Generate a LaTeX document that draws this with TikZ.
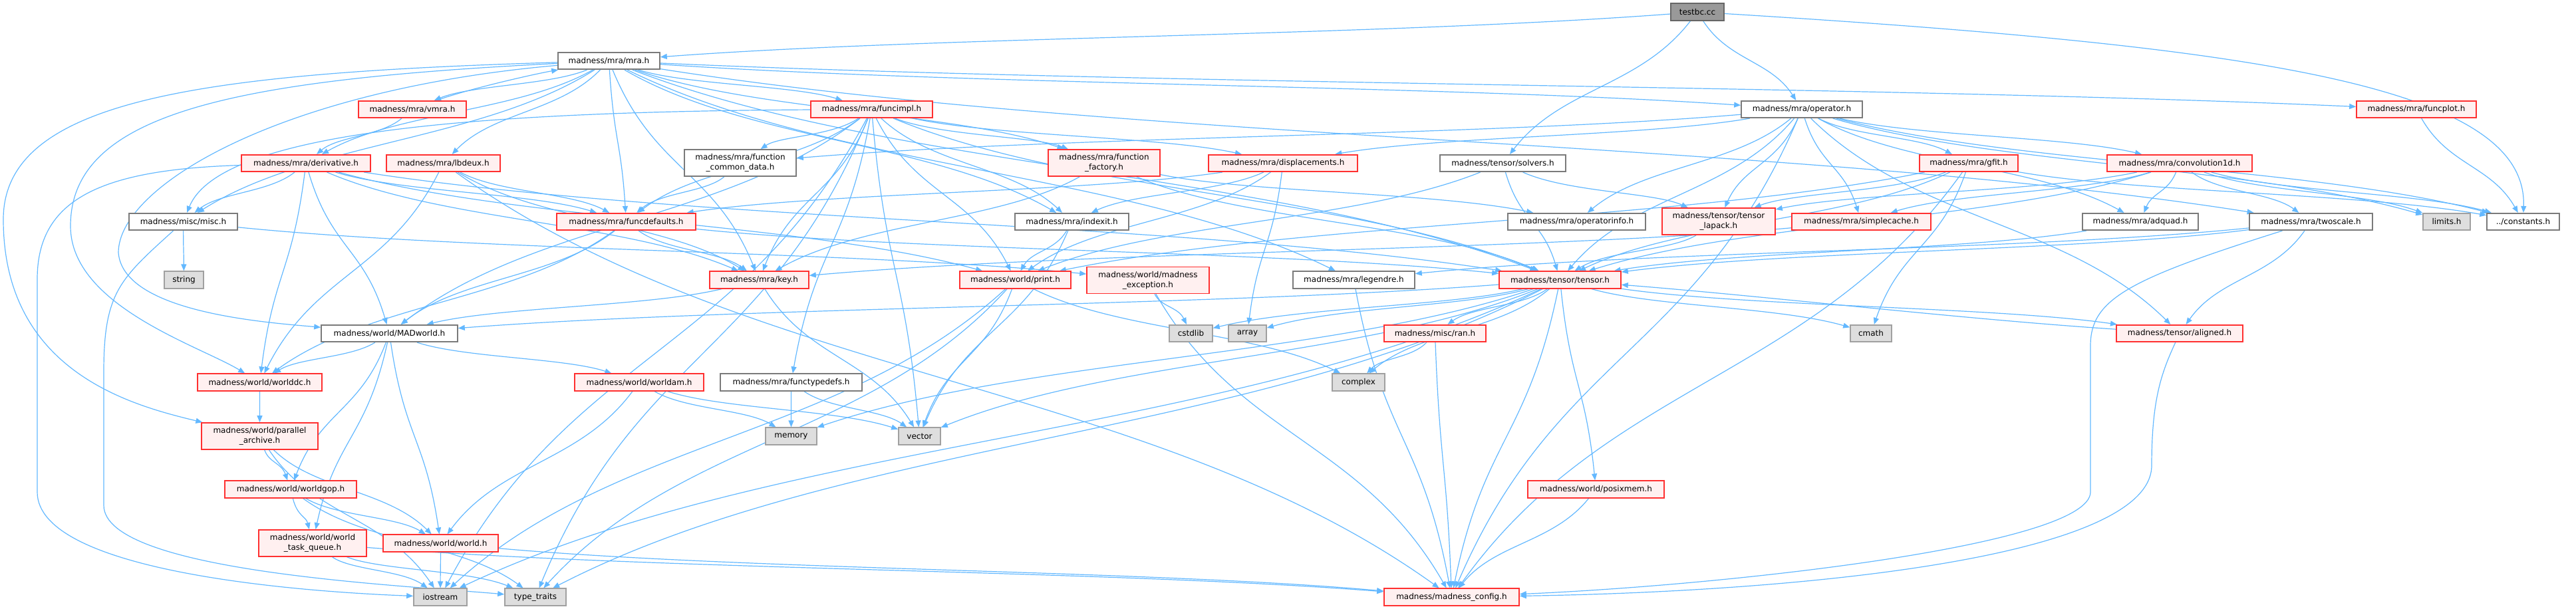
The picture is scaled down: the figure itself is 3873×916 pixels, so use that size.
\documentclass[tikz,border=0pt]{standalone}
\usepackage{fontspec}
\setmainfont{DejaVu Sans}
\usetikzlibrary{arrows.meta,calc}
\pgfdeclarelayer{bg}
\pgfsetlayers{bg,main}
\definecolor{edgec}{HTML}{63B8FF}
\definecolor{redfill}{HTML}{FFF0F0}
\definecolor{redline}{HTML}{FF3030}
\definecolor{whiteline}{HTML}{7A7A7A}
\definecolor{greyfill}{HTML}{DEDEDE}
\definecolor{greyline}{HTML}{A0A0A0}
\definecolor{topfill}{HTML}{999999}
\definecolor{topline}{HTML}{666666}
\tikzset{
  bw/.style={minimum width=#1*0.5pt},
  nbase/.style={draw, line width=0.8pt, inner sep=0pt, minimum height=12.75pt,
    font=\fontsize{6}{7.4}\selectfont, text=black, align=center},
  redn/.style={nbase, draw=redline, fill=redfill},
  whiten/.style={nbase, draw=whiteline, fill=white},
  greyn/.style={nbase, draw=greyline, fill=greyfill},
  topn/.style={nbase, draw=topline, fill=topfill},
  tall/.style={minimum height=20pt},
  edge/.style={draw=edgec, line width=0.6pt, -{Triangle[length=5pt,width=4pt]}},
}
\newcommand\lnk[3][]{\draw[edge,#1] let \p1=(#2), \p2=(#3) in (#2) .. controls ({0.7*\x1+0.3*\x2},{0.5*\y1+0.5*\y2}) and ({0.3*\x1+0.7*\x2},{0.5*\y1+0.5*\y2}) .. (#3);}
\begin{document}
\begin{tikzpicture}[x=0.5pt,y=-0.5pt]
\useasboundingbox (0,0) rectangle (3873,916);
% nodes
\node[topn,bw=80] (testbc) at (2552,18) {testbc.cc};
\node[whiten,bw=153] (mra) at (915.5,91.5) {madness/mra/mra.h};
\node[redn,bw=162] (vmra) at (620,164.5) {madness/mra/vmra.h};
\node[redn,bw=183] (funcimpl) at (1310.5,164.5) {madness/mra/funcimpl.h};
\node[whiten,bw=182] (opr) at (2709,164.5) {madness/mra/operator.h};
\node[redn,bw=180] (funcplot) at (3633,164.5) {madness/mra/funcplot.h};
\node[redn,bw=194] (deriv) at (460,245.5) {madness/mra/derivative.h};
\node[redn,bw=171] (lbdeux) at (666.5,245.5) {madness/mra/lbdeux.h};
\node[whiten,bw=168,tall] (fcd) at (1113,245) {madness/mra/function\\\_common\_data.h};
\node[redn,bw=168,tall] (ffac) at (1660,245) {madness/mra/function\\\_factory.h};
\node[redn,bw=224] (displ) at (1929,245.5) {madness/mra/displacements.h};
\node[whiten,bw=189] (solvers) at (2259.5,245.5) {madness/tensor/solvers.h};
\node[redn,bw=148] (gfit) at (2960,245.5) {madness/mra/gfit.h};
\node[redn,bw=218] (conv) at (3277,245.5) {madness/mra/convolution1d.h};
\node[whiten,bw=163] (misc) at (275.5,333.5) {madness/misc/misc.h};
\node[redn,bw=209] (fdef) at (941.5,333.5) {madness/mra/funcdefaults.h};
\node[whiten,bw=171] (indexit) at (1611.5,333.5) {madness/mra/indexit.h};
\node[whiten,bw=207] (opinfo) at (2370.5,333.5) {madness/mra/operatorinfo.h};
\node[redn,bw=170,tall] (lapack) at (2584,333) {madness/tensor/tensor\\\_lapack.h};
\node[redn,bw=209] (scache) at (2798.5,333.5) {madness/mra/simplecache.h};
\node[whiten,bw=174] (adquad) at (3218,333.5) {madness/mra/adquad.h};
\node[whiten,bw=185] (twoscale) at (3474.5,333.5) {madness/mra/twoscale.h};
\node[greyn,bw=71] (limits) at (3678.5,333.5) {limits.h};
\node[whiten,bw=109] (const) at (3793.5,333.5) {../constants.h};
\node[greyn,bw=59] (string) at (276.5,421) {string};
\node[redn,bw=149] (key) at (1141.5,421) {madness/mra/key.h};
\node[redn,bw=167] (print) at (1526.5,421) {madness/world/print.h};
\node[redn,bw=184,tall] (mexc) at (1726,421.5) {madness/world/madness\\\_exception.h};
\node[whiten,bw=183] (legendre) at (2035.5,421) {madness/mra/legendre.h};
\node[redn,bw=183] (tensor) at (2345.5,421) {madness/tensor/tensor.h};
\node[whiten,bw=205] (madworld) at (585.5,501.5) {madness/world/MADworld.h};
\node[greyn,bw=65] (cstdlib) at (1790.5,501.5) {cstdlib};
\node[greyn,bw=57] (array) at (1875.5,501.5) {array};
\node[redn,bw=153] (ran) at (2157.5,501.5) {madness/misc/ran.h};
\node[greyn,bw=62] (cmath) at (2813,501.5) {cmath};
\node[redn,bw=190] (aligned) at (3277,501.5) {madness/tensor/aligned.h};
\node[redn,bw=187] (worlddc) at (390.5,575) {madness/world/worlddc.h};
\node[redn,bw=194] (worldam) at (961,575) {madness/world/worldam.h};
\node[whiten,bw=213] (ftd) at (1189.5,575) {madness/mra/functypedefs.h};
\node[greyn,bw=79] (complex) at (2042.5,575) {complex};
\node[redn,bw=175,tall] (parch) at (390.5,656) {madness/world/parallel\\\_archive.h};
\node[greyn,bw=77] (memory) at (1189.5,656) {memory};
\node[greyn,bw=63] (vector) at (1382.5,656) {vector};
\node[redn,bw=198] (worldgop) at (437,736) {madness/world/worldgop.h};
\node[redn,bw=205] (posix) at (2399.5,736) {madness/world/posixmem.h};
\node[redn,bw=162,tall] (wtq) at (470,817) {madness/world/world\\\_task\_queue.h};
\node[redn,bw=173] (world) at (662.5,817) {madness/world/world.h};
\node[greyn,bw=80] (iostream) at (662,898) {iostream};
\node[greyn,bw=92] (ttraits) at (805,898) {type\_traits};
\node[redn,bw=203] (config) at (2182.5,898) {madness/madness\_config.h};
\begin{pgfonlayer}{bg}
% testbc
\lnk{testbc}{mra}
\lnk{testbc}{opr}
\lnk{testbc}{solvers}
\draw[edge] (testbc) .. controls (3400,70) and (3800,130) .. (const);
% mra
\lnk{mra}{vmra}
\lnk{mra}{deriv}
\lnk{mra}{lbdeux}
\lnk{mra}{misc}
\lnk{mra}{fdef}
\lnk{mra}{key}
\lnk{mra}{funcimpl}
\lnk{mra}{ffac}
\lnk{mra}{indexit}
\lnk{mra}{opr}
\lnk{mra}{funcplot}
\lnk{mra}{twoscale}
\lnk{mra}{legendre}
\lnk{mra}{tensor}
\draw[edge] (mra) .. controls (300,110) and (5,150) .. (5,330) .. controls (5,560) and (200,610) .. (parch);
\draw[edge] (mra) .. controls (350,120) and (106,170) .. (106,340) .. controls (106,460) and (300,520) .. (worlddc);
\draw[edge] (mra) .. controls (420,135) and (178,280) .. (178,380) .. controls (185,470) and (400,485) .. (madworld);
% vmra
\draw[edge] (vmra) .. controls (700,135) and (800,112) .. (mra);
\lnk{vmra}{deriv}
% derivative
\lnk{deriv}{misc}
\lnk{deriv}{fdef}
\lnk{deriv}{madworld}
\lnk{deriv}{worlddc}
\lnk{deriv}{key}
\lnk{deriv}{print}
\lnk{deriv}{tensor}
\draw[edge] (deriv) .. controls (150,255) and (56,300) .. (56,420) -- (56,740) .. controls (56,860) and (450,890) .. (iostream);
% lbdeux
\lnk{lbdeux}{fdef}
\lnk{lbdeux}{worlddc}
\lnk{lbdeux}{key}
\lnk{lbdeux}{config}
% misc
\lnk{misc}{string}
\lnk{misc}{mexc}
\draw[edge] (misc) .. controls (180,420) and (156,440) .. (156,560) -- (156,760) .. controls (156,860) and (600,880) .. (ttraits);
% funcimpl
\draw[edge] (funcimpl) .. controls (700,168) and (330,200) .. (misc);
\lnk{funcimpl}{fdef}
\lnk{funcimpl}{fcd}
\lnk{funcimpl}{ffac}
\lnk{funcimpl}{displ}
\lnk{funcimpl}{indexit}
\lnk{funcimpl}{key}
\lnk{funcimpl}{print}
\lnk{funcimpl}{madworld}
\lnk{funcimpl}{ftd}
\lnk{funcimpl}{tensor}
\lnk{funcimpl}{iostream}
\lnk{funcimpl}{ttraits}
\lnk{funcimpl}{vector}
% second row
\lnk{fcd}{fdef}
\lnk{ffac}{key}
\lnk{ffac}{tensor}
\lnk{ffac}{opinfo}
\lnk{displ}{fdef}
\lnk{displ}{indexit}
\lnk{displ}{print}
\lnk{displ}{array}
\lnk{indexit}{print}
\lnk{indexit}{vector}
\lnk{fdef}{madworld}
\lnk{fdef}{key}
\lnk{fdef}{tensor}
\lnk{fdef}{worlddc}
% operator
\lnk{opr}{fcd}
\lnk{opr}{displ}
\lnk{opr}{opinfo}
\lnk{opr}{lapack}
\lnk{opr}{scache}
\lnk{opr}{gfit}
\lnk{opr}{conv}
\lnk{opr}{adquad}
\lnk{opr}{limits}
\lnk{opr}{const}
\lnk{opr}{aligned}
\lnk{opr}{tensor}
\lnk{opr}{config}
% others
\lnk{solvers}{tensor}
\lnk{solvers}{lapack}
\lnk{solvers}{print}
\lnk{funcplot}{const}
\lnk{gfit}{lapack}
\lnk{gfit}{tensor}
\lnk{gfit}{print}
\lnk{gfit}{cmath}
\lnk{gfit}{const}
\lnk{gfit}{config}
\lnk{conv}{adquad}
\lnk{conv}{twoscale}
\lnk{conv}{limits}
\lnk{conv}{const}
\lnk{conv}{lapack}
\lnk{conv}{scache}
\lnk{conv}{tensor}
\lnk{adquad}{tensor}
\lnk{twoscale}{tensor}
\lnk{twoscale}{legendre}
\lnk{twoscale}{aligned}
\draw[edge] (twoscale) .. controls (3200,420) and (3143,450) .. (3143,520) -- (3143,740) .. controls (3143,820) and (2600,880) .. (config);
\lnk{scache}{key}
\lnk{lapack}{tensor}
\lnk{legendre}{config}
% tensor
\lnk{tensor}{ran}
\lnk{tensor}{complex}
\lnk{tensor}{cmath}
\lnk{tensor}{aligned}
\lnk{tensor}{config}
\lnk{tensor}{posix}
\lnk{tensor}{vector}
\lnk{tensor}{memory}
\lnk{tensor}{array}
\lnk{tensor}{cstdlib}
\lnk{tensor}{iostream}
\lnk{tensor}{ttraits}
\lnk{tensor}{madworld}
\draw[edge] (aligned) .. controls (2950,480) and (2650,445) .. (tensor);
\draw[edge] (aligned) .. controls (3250,560) and (3235,600) .. (3235,700) .. controls (3235,840) and (2700,890) .. (config);
\lnk{ran}{complex}
\lnk{ran}{config}
\lnk{posix}{config}
\lnk{mexc}{cstdlib}
\lnk{mexc}{config}
\lnk{print}{vector}
\lnk{print}{iostream}
\lnk{print}{ttraits}
\lnk{print}{complex}
\lnk{key}{vector}
\lnk{key}{madworld}
% world
\lnk{madworld}{worlddc}
\lnk{madworld}{worldam}
\lnk{madworld}{worldgop}
\lnk{madworld}{wtq}
\lnk{madworld}{world}
\lnk{worlddc}{parch}
\lnk{parch}{worldgop}
\lnk{parch}{world}
\lnk{parch}{iostream}
\lnk{worldgop}{wtq}
\lnk{worldgop}{world}
\lnk{worldgop}{ttraits}
\lnk{wtq}{iostream}
\lnk{wtq}{ttraits}
\lnk{wtq}{config}
\lnk{world}{iostream}
\lnk{world}{config}
\lnk{worldam}{memory}
\lnk{worldam}{vector}
\lnk{worldam}{world}
\lnk{ftd}{memory}
\lnk{ftd}{vector}
\end{pgfonlayer}
\end{tikzpicture}
\end{document}
